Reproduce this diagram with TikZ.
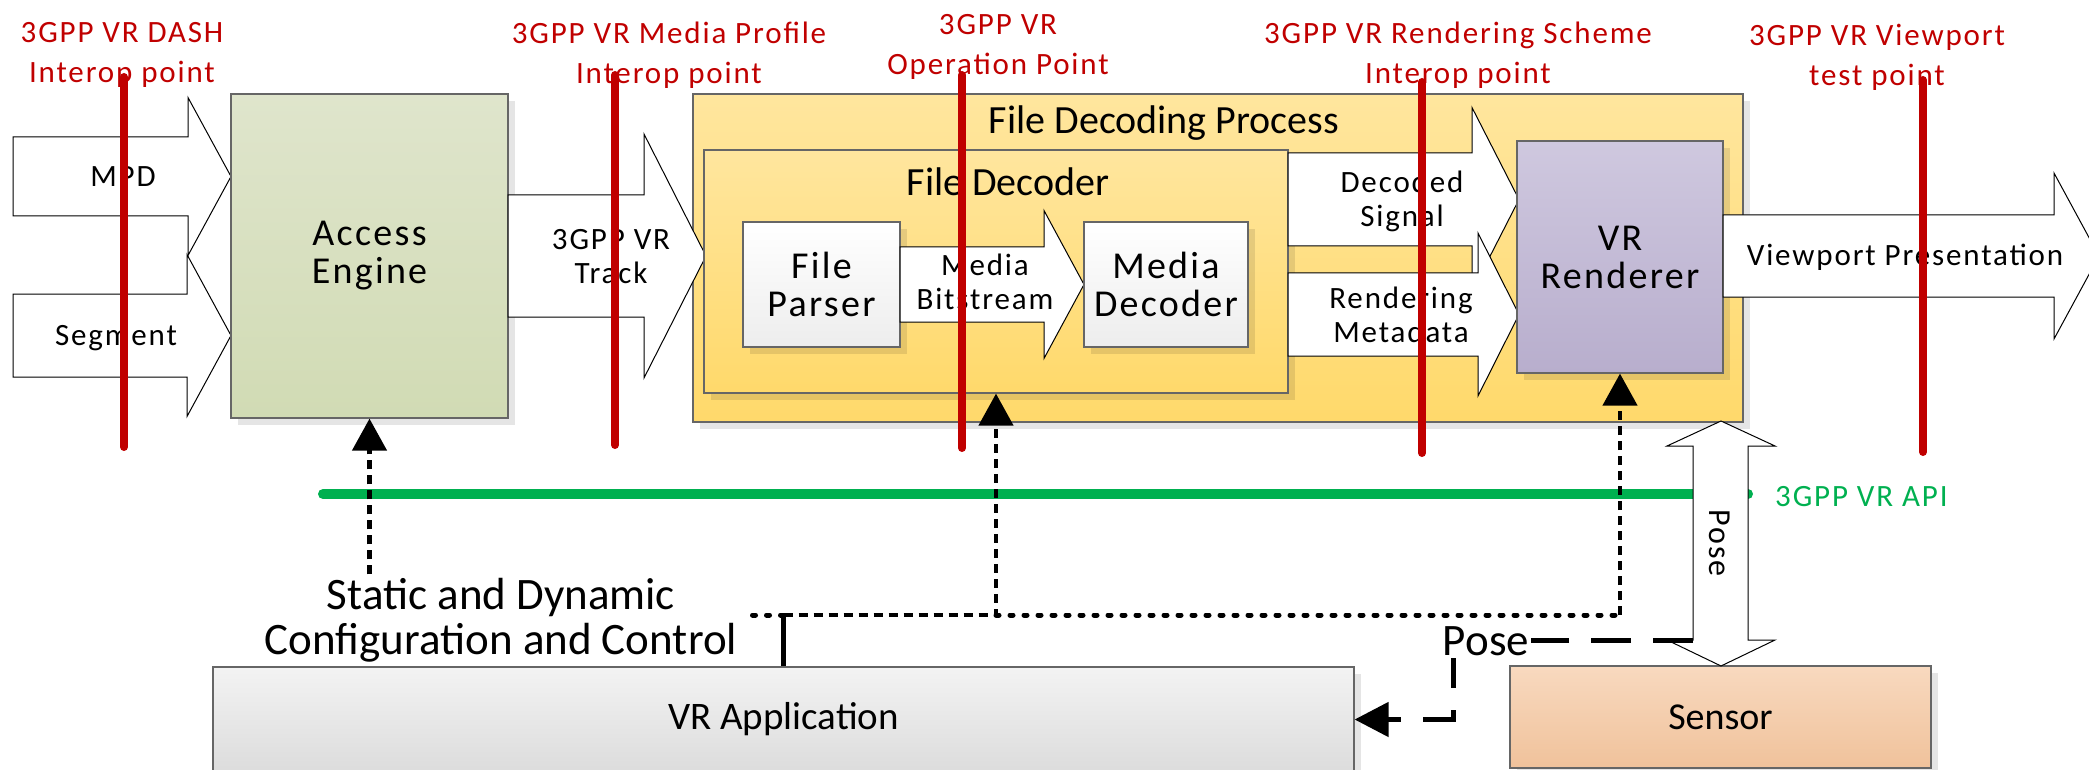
\documentclass[tikz,border=0pt]{standalone}
\usepackage{fontspec}
\setmainfont{Carlito}
\newfontfamily\spaced{Carlito}[LetterSpace=6]
\usetikzlibrary{arrows.meta,shadows}

\definecolor{probered}{HTML}{C00000}
\definecolor{apigreen}{HTML}{00B050}
\definecolor{aetop}{HTML}{DFE5CC}
\definecolor{aebot}{HTML}{D1DBB4}
\definecolor{fdtop}{HTML}{FFE69E}
\definecolor{fdbot}{HTML}{FFD96B}
\definecolor{rdtop}{HTML}{CFC8DF}
\definecolor{rdbot}{HTML}{B8AECD}
\definecolor{aptop}{HTML}{F3F3F3}
\definecolor{apbot}{HTML}{DCDCDC}
\definecolor{sntop}{HTML}{F8D9BF}
\definecolor{snbot}{HTML}{F0C29B}

\newcommand{\blockfont}{\spaced\fontsize{38}{38}\selectfont}
\newcommand{\flowfont}{\spaced\fontsize{31}{34}\selectfont}
\newcommand{\ttlfont}{\fontsize{40}{40}\selectfont}
\newcommand{\probefont}{\spaced\fontsize{31}{40}\selectfont}
\newcommand{\ctrlfont}{\fontsize{45}{45}\selectfont}

% block arrow: x start, x head base, x tip, y centre, shaft half, head half
\newcommand{\fatarrow}[6]{%
  \draw[fat] (#1,{#4-#5}) -- (#2,{#4-#5}) -- (#2,{#4-#6}) -- (#3,#4)
    -- (#2,{#4+#6}) -- (#2,{#4+#5}) -- (#1,{#4+#5}) -- cycle;}

\tikzset{
  blockbox/.style={draw=black!60, line width=1.2pt, inner sep=0pt, align=center, font=\blockfont,
    drop shadow={shadow xshift=7pt, shadow yshift=-7pt, opacity=0.1, fill=black}},
  fat/.style={draw=black, line width=1pt, fill=white},
  flowtext/.style={font=\flowfont, align=center, inner sep=1pt},
  probe/.style={draw=probered, line width=8pt, line cap=round},
  probetext/.style={font=\probefont, text=probered, align=center, inner sep=0pt},
  ctrl/.style={line width=4.5pt, dash pattern=on 9pt off 6pt, -{Triangle[length=32pt,width=34pt]}},
  ctrldot/.style={line width=5pt, line cap=round, dash pattern=on 3pt off 11pt},
  posedash/.style={line width=5pt, dash pattern=on 40pt off 22pt, -{Triangle[length=34pt,width=34pt]}},
}

\begin{document}
\begin{tikzpicture}[x=1pt,y=-1pt]
\useasboundingbox (0,0) rectangle (2089,770);

% input side
\fatarrow{13}{188}{231}{176.5}{39.5}{79}
\fatarrow{13}{187}{231}{335.5}{41.5}{81}
\node[flowtext] (mpd) at (123,177) {MPD};
\node[flowtext] (seg) at (116,338) {Segment};
\node[blockbox, top color=aetop, bottom color=aebot, minimum width=277pt, minimum height=324pt] (access) at (369.5,256) {Access\\Engine};

% file decoding process
\node[blockbox, top color=fdtop, bottom color=fdbot, minimum width=1050pt, minimum height=328pt] (fdp) at (1218,258) {};
\node[font=\ttlfont] (fdptitle) at (1164,123) {File Decoding Process};
\fatarrow{508}{644}{706}{256}{61}{122}
\node[flowtext] (track) at (611,257) {3GPP VR\\Track};
\node[blockbox, top color=fdtop, bottom color=fdbot, minimum width=584pt, minimum height=243pt] (fdec) at (996,271.5) {};
\node[font=\ttlfont] (fdectitle) at (1008,182) {File Decoder};
\node[blockbox, top color=white, bottom color=black!7, minimum width=157pt, minimum height=125pt] (fparse) at (821.5,284.5) {File\\Parser};
\fatarrow{900}{1044}{1084}{284.5}{37.5}{74}
\node[flowtext] (bits) at (985,282) {Media\\Bitstream};
\node[blockbox, top color=white, bottom color=black!7, minimum width=164pt, minimum height=125pt] (mdec) at (1166,284.5) {Media\\Decoder};

\fatarrow{1288}{1472}{1519}{199.5}{46.5}{92}
\fatarrow{1288}{1478}{1519}{314.5}{41.5}{81.5}
\node[flowtext] (decsig) at (1402,201) {Decoded\\Signal};
\node[flowtext] (rmeta) at (1401,315) {Rendering\\Metadata};
\node[blockbox, top color=rdtop, bottom color=rdbot, minimum width=206pt, minimum height=232pt] (rend) at (1620,257) {VR\\Renderer};

% output
\fatarrow{1723}{2054}{2099}{256}{41}{83}
\node[flowtext] (vport) at (1905,257) {Viewport Presentation};

% application and sensor
\node[blockbox, font=\fontsize{39}{39}\selectfont, top color=aptop, bottom color=apbot, minimum width=1141pt, minimum height=105pt] (app) at (783.5,719.5) {VR Application};
\node[blockbox, font=\fontsize{38}{38}\selectfont, top color=sntop, bottom color=snbot, minimum width=421pt, minimum height=102pt] (sensor) at (1720.5,717) {Sensor};

% API line
\draw[apigreen, line width=10pt, line cap=round] (323,494) -- (1748,494);
\node[font=\probefont, text=apigreen, anchor=west, inner sep=0pt] (apilbl) at (1775,497) {3GPP VR API};

% configuration and control
\node[font=\ctrlfont, align=center] (cfg) at (501,620) {Static and Dynamic\\Configuration and Control};
\coordinate (hub) at (783.5,615);
\draw[ctrl] (cfg.north -| access.south) -- (access.south);
\draw[line width=4.5pt] (app.north) -- (hub);
\draw[ctrldot] (hub) -- ++(-35,0);
\draw[ctrl] (hub) -- (hub -| fdec.south) -- (fdec.south);
\draw[ctrldot] (hub -| fdec.south) -- (hub -| rend.south);
\draw[ctrl] (hub -| rend.south) -- (rend.south);

% pose
\draw[fat] (1721,421) -- (1775,446) -- (1748,446) -- (1748,640) -- (1775,640) -- (1721,666)
  -- (1667,640) -- (1693,640) -- (1693,446) -- (1667,446) -- cycle;
\node[font=\spaced\fontsize{32}{32}\selectfont, rotate=-90] (posev) at (1720,543) {Pose};
\coordinate (posewest) at (1693,640);
\draw[posedash] (posewest) -- (1453,640) -- (1453,719.5) -- (app.east);
\node[font=\ctrlfont, fill=white, inner sep=2pt] (poselbl) at (1486,641) {Pose};

% interop points
\node[probetext] (dashpt) at (122,55) {3GPP VR DASH\\Interop point};
\node[probetext] (mediapt) at (669,55) {3GPP VR Media Profile\\Interop point};
\node[probetext] (oppt) at (998,47) {3GPP VR\\Operation Point};
\node[probetext] (rendpt) at (1458,55) {3GPP VR Rendering Scheme\\Interop point};
\node[probetext] (viewpt) at (1877,57) {3GPP VR Viewport\\test point};
\draw[probe] (124,77) -- (124,447);
\draw[probe] (615,75) -- (615,445);
\draw[probe] (962,75) -- (962,448);
\draw[probe] (1422,82) -- (1422,453);
\draw[probe] (1923,80) -- (1923,452);
\end{tikzpicture}
\end{document}
